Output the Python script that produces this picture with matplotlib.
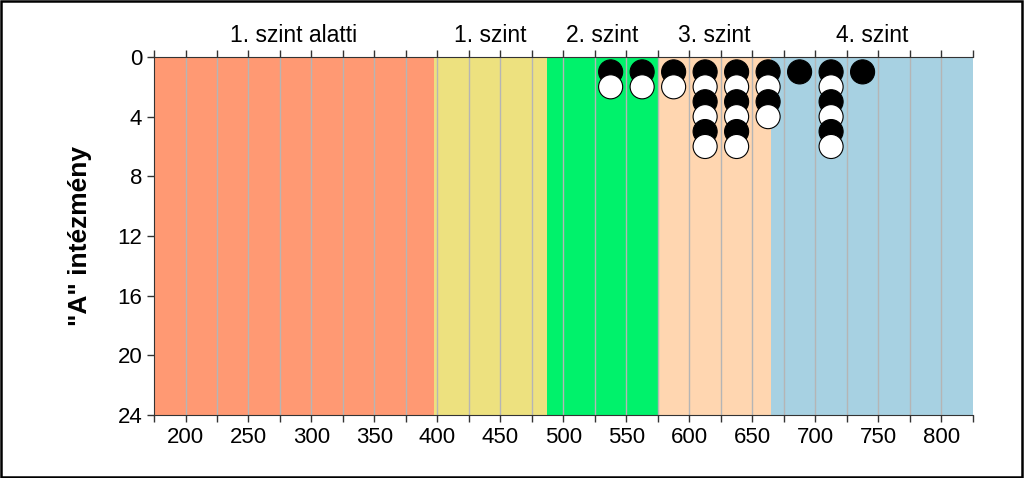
import matplotlib
matplotlib.use("Agg")
import matplotlib.pyplot as plt
from matplotlib.patches import Rectangle

plt.rcParams['font.family'] = ['Liberation Sans', 'DejaVu Sans']

# level bands (score ranges) and their names
band_edges = [175, 397, 487, 575, 665, 825]
band_names = ['1. szint alatti', '1. szint', '2. szint', '3. szint', '4. szint']
band_colors = ['#FF9973', '#EDE17F', '#00F26B', '#FFD6B0', '#A7D1E2']

# dot columns: bin centre and number of schools in that bin
bin_centers = [537.5, 562.5, 587.5, 612.5, 637.5, 662.5, 687.5, 712.5, 737.5]
bin_counts = [2, 2, 2, 6, 6, 4, 1, 6, 1]

fig = plt.figure(figsize=(10.24, 4.78), dpi=100)
ax = fig.add_axes([0.1504, 0.1318, 0.7996, 0.749])

for i in range(len(band_names)):
    ax.axvspan(band_edges[i], band_edges[i + 1], color=band_colors[i], lw=0, zorder=0)
    ax.text((band_edges[i] + band_edges[i + 1]) / 2, -0.7, band_names[i],
            ha='center', va='bottom', fontsize=16.5)

for gx in range(200, 825, 25):
    ax.axvline(gx, color='#B5B5B5', lw=1, zorder=1)

# stack the dots, black on odd rows, white on even ones
xs, ys, cs = [], [], []
for x, n in zip(bin_centers, bin_counts):
    for k in range(1, n + 1):
        xs.append(x)
        ys.append(k)
        cs.append('black' if k % 2 == 1 else 'white')
ax.scatter(xs, ys, s=300, c=cs, edgecolors='black', linewidths=0.8, zorder=3, clip_on=False)

ax.set_xlim(175, 825)
ax.set_ylim(24, 0)
ax.set_xticks(range(200, 801, 50))
ax.set_xticks(range(175, 826, 25), minor=True)
ax.set_yticks(range(0, 25, 4))
ax.tick_params(axis='both', which='both', labelsize=16, length=5, color='#333333', width=1)
ax.tick_params(axis='x', which='both', top=True)
ax.spines['right'].set_visible(False)
for s in ['left', 'bottom', 'top']:
    ax.spines[s].set_color('#333333')
ax.set_ylabel('"A" intézmény', fontsize=19, fontweight='bold', labelpad=18)

fig.add_artist(Rectangle((0.001, 0.002), 0.997, 0.995, transform=fig.transFigure,
                         fill=False, edgecolor='black', lw=1.8))

fig.savefig('out.png', dpi=100)
